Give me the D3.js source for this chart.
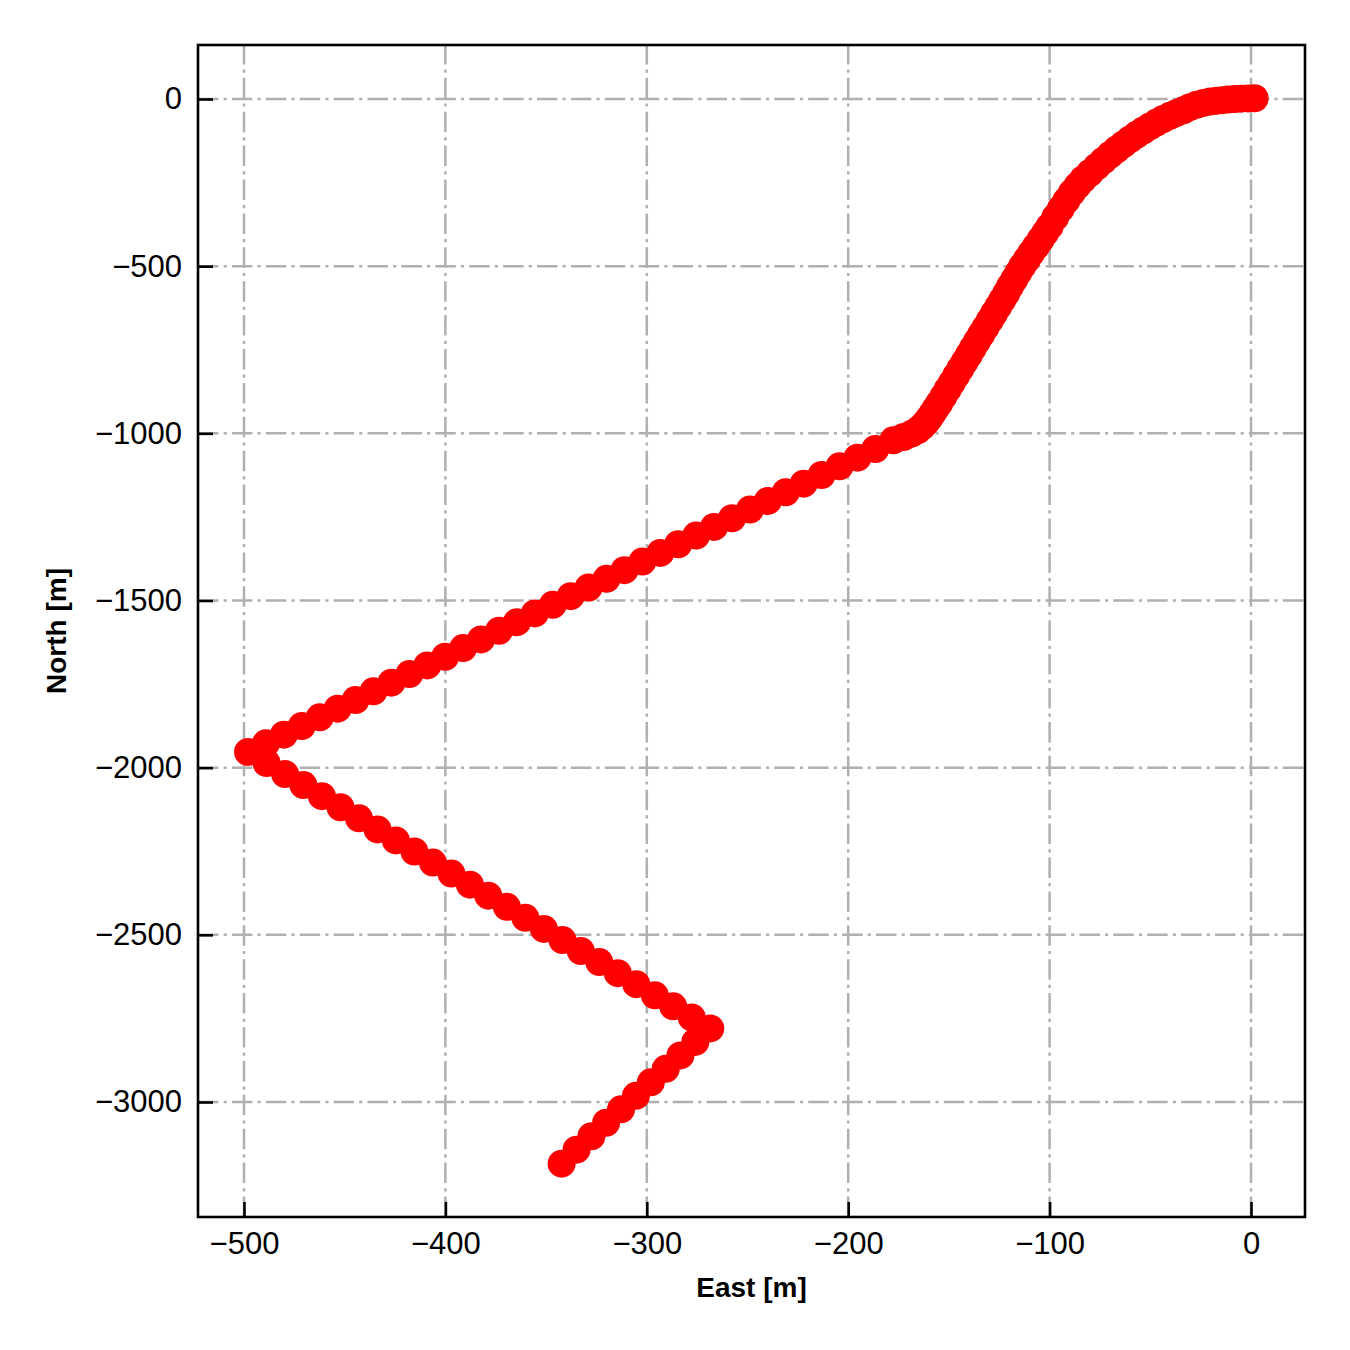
<!DOCTYPE html>
<html><head><meta charset="utf-8">
<script src="https://cdn.jsdelivr.net/npm/d3@7"></script>
<style>body{margin:0;background:#fff}</style>
</head><body><svg id="c" width="1350" height="1350"></svg>
<script>
// Build section (dense samples)
const eastBuild = [1.8,-1.5,-4.8,-8.1,-11.4,-14.2,-17,-20.3,-23.6,-27,-30.3,-33.6,-36.9,-40.2,-43.6,-46.9,-50.2,-53.5,-56.8,-60.1,-63.4,-66.7,-70,-73.3,-76.6,-80,-83.3,-86.1,-88.9,-91.6,-94.4,-97.2,-100,-102.3,-104.5,-106.8,-109.1,-111.3,-113.6,-115.6,-117.6,-119.6,-121.5,-123.5,-125.5,-127.6,-129.7,-131.8,-133.9,-136,-138.1,-140.1,-142.2,-144.3,-146.4,-148.5,-150.6,-152.7,-154.8,-156.6,-158.2,-159.8,-161.5,-163.3,-165.5,-168.5,-172.5,-177.6];
const northBuild = [2.2,1.8,1.0,-0.2,-1.8,-3.4,-5,-7.6,-11.8,-17.3,-24.6,-34,-41.6,-50.2,-59.8,-70.4,-82,-94.2,-107.1,-121,-135.9,-151,-167.3,-184.6,-202.5,-221.4,-240,-258.9,-280,-303.1,-327.8,-353.9,-381,-401,-421,-441,-460,-480,-500,-520,-540,-560,-581,-601,-621,-641.6,-662.3,-682.9,-703.6,-724.2,-744.9,-765.5,-786.1,-806.8,-827.4,-848.1,-868.7,-889.4,-910,-926,-941,-955,-968,-980,-991,-1001,-1011,-1021];
// Leg 1 (towards the west turn)
const eastLeg1 = [-186.5,-195.4,-204.3,-213.2,-222.1,-231.0,-239.9,-248.8,-257.7,-266.6,-275.5,-284.4,-293.3,-302.2,-311.1,-320.0,-328.9,-337.8,-346.7,-355.6,-364.5,-373.4,-382.3,-391.2,-400.1,-409.0,-417.9,-426.8,-435.7,-444.6,-453.5,-462.4,-471.3,-480.2,-489.1,-498.0];
const northLeg1 = [-1046.9,-1072.8,-1098.7,-1124.6,-1150.5,-1176.3,-1202.2,-1228.1,-1254.0,-1279.9,-1305.8,-1331.7,-1357.6,-1383.5,-1409.4,-1435.2,-1461.1,-1487.0,-1512.9,-1538.8,-1564.7,-1590.6,-1616.5,-1642.4,-1668.3,-1694.1,-1720.0,-1745.9,-1771.8,-1797.7,-1823.6,-1849.5,-1875.4,-1901.3,-1927.2,-1953.0];
// Leg 2 (back towards the east)
const eastLeg2 = [-488.8,-479.6,-470.5,-461.3,-452.1,-442.9,-433.7,-424.6,-415.4,-406.2,-397.0,-387.8,-378.7,-369.5,-360.3,-351.1,-341.9,-332.8,-323.6,-314.4,-305.2,-296.0,-286.9,-277.7,-268.5];
const northLeg2 = [-1986.1,-2019.2,-2052.2,-2085.3,-2118.4,-2151.5,-2184.6,-2217.6,-2250.7,-2283.8,-2316.9,-2350.0,-2383.0,-2416.1,-2449.2,-2482.3,-2515.4,-2548.4,-2581.5,-2614.6,-2647.7,-2680.8,-2713.8,-2746.9,-2780.0];
// Leg 3 (final section)
const eastLeg3 = [-275.9,-283.3,-290.6,-298.0,-305.4,-312.8,-320.2,-327.5,-334.9,-342.3];
const northLeg3 = [-2820.3,-2860.6,-2900.9,-2941.2,-2981.5,-3021.8,-3062.1,-3102.4,-3142.7,-3184.5];

const xTicks = [-500,-400,-300,-200,-100,0];
const yTicks = [0,-500,-1000,-1500,-2000,-2500,-3000];
const xLabel = "East [m]";
const yLabel = "North [m]";

const L = 198, R = 1305, T = 45, B = 1217;
const x = d3.scaleLinear().domain([-522.84, 26.81]).range([L, R]);
const y = d3.scaleLinear().domain([-3343.97, 161.5]).range([B, T]);

const svg = d3.select("#c");
svg.append("rect").attr("width",1350).attr("height",1350).attr("fill","#fff");

const font = "'Liberation Sans', Arial, sans-serif";
const dash = "20.5,5.1,3.2,5.1";
const fmt = d3.format("d");

// grid
const g = svg.append("g");
g.selectAll("line.gx").data(xTicks).join("line")
  .attr("x1", d => x(d)).attr("x2", d => x(d)).attr("y1", B).attr("y2", T)
  .attr("stroke", "#b0b0b0").attr("stroke-width", 2.5).attr("stroke-dasharray", dash);
g.selectAll("line.gy").data(yTicks).join("line")
  .attr("y1", d => y(d)).attr("y2", d => y(d)).attr("x1", L).attr("x2", R)
  .attr("stroke", "#b0b0b0").attr("stroke-width", 2.5).attr("stroke-dasharray", dash);

// points
const pts = [];
[[eastBuild,northBuild],[eastLeg1,northLeg1],[eastLeg2,northLeg2],[eastLeg3,northLeg3]].forEach(([e,n]) => {
  e.forEach((v,i) => pts.push([v, n[i]]));
});
svg.append("g").selectAll("circle").data(pts).join("circle")
  .attr("cx", d => x(d[0])).attr("cy", d => y(d[1])).attr("r", 14).attr("fill", "#ff0000");

// axes
const ax = svg.append("g").attr("transform", `translate(0,${B})`)
  .call(d3.axisBottom(x).tickValues(xTicks).tickFormat(fmt).tickSizeInner(-15).tickSizeOuter(0).tickPadding(15));
const ay = svg.append("g").attr("transform", `translate(${L},0)`)
  .call(d3.axisLeft(y).tickValues(yTicks).tickFormat(fmt).tickSizeInner(-15).tickSizeOuter(0).tickPadding(16));
[ax, ay].forEach(a => {
  a.select(".domain").remove();
  a.selectAll(".tick line").attr("stroke", "#000").attr("stroke-width", 2.6);
  a.selectAll(".tick text").attr("fill", "#000").style("font-family", font).style("font-size", "31px");
});

// frame
svg.append("rect").attr("x", L).attr("y", T).attr("width", R - L).attr("height", B - T)
  .attr("fill", "none").attr("stroke", "#000").attr("stroke-width", 2.6);

// labels
svg.append("text").attr("x", (L + R) / 2).attr("y", 1297).attr("text-anchor", "middle")
  .style("font-family", font).style("font-size", "28px").style("font-weight", "bold").text(xLabel);
svg.append("text").attr("transform", `translate(66,${(T + B) / 2}) rotate(-90)`).attr("text-anchor", "middle")
  .style("font-family", font).style("font-size", "28px").style("font-weight", "bold").text(yLabel);
</script></body></html>
